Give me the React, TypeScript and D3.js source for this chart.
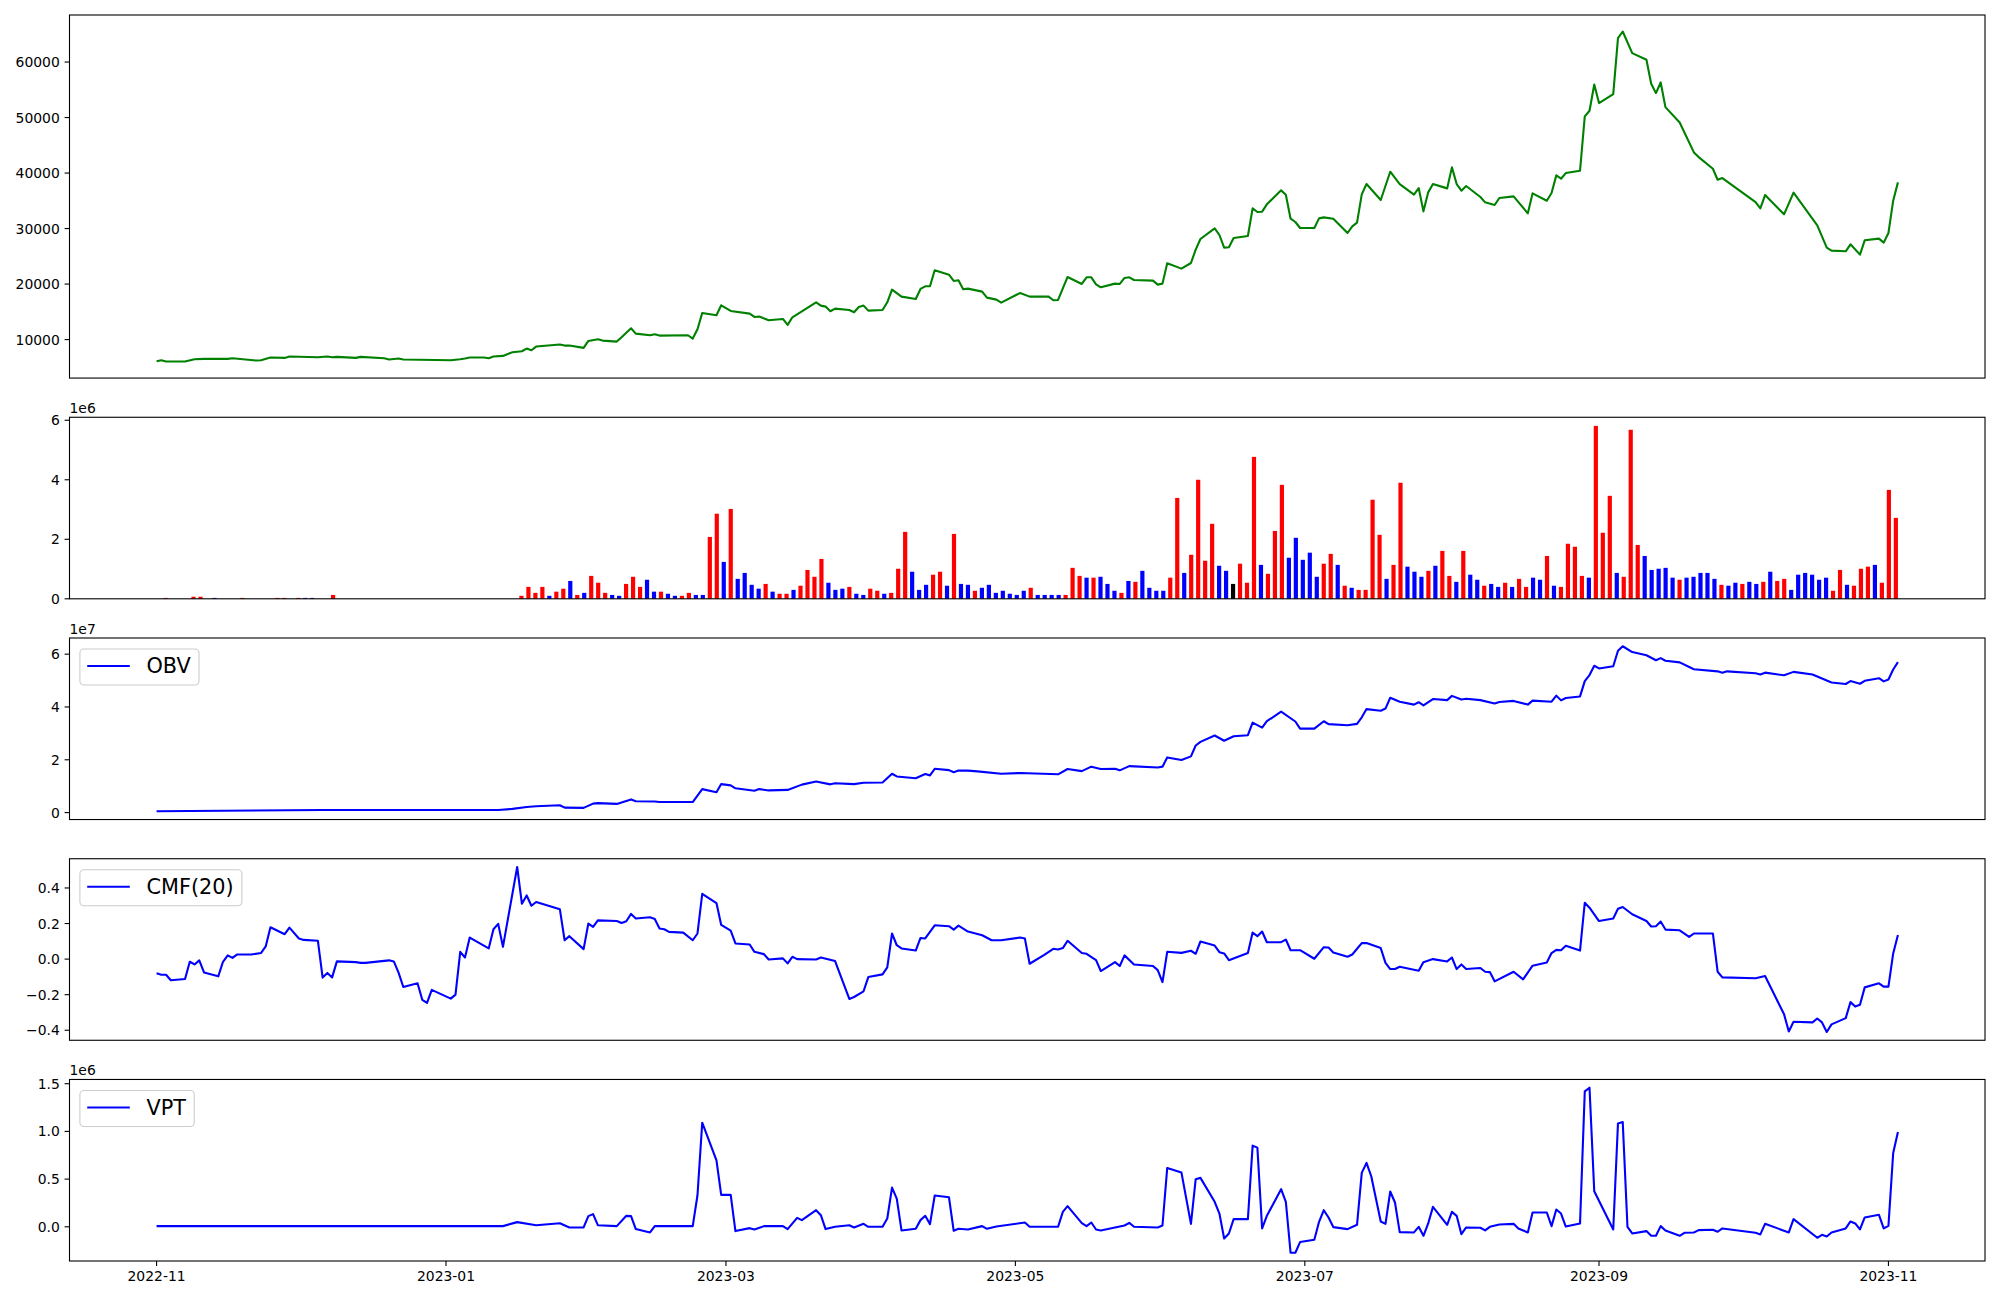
import React from "react";
import * as d3 from "d3";

// ---------------- DATA ----------------
// Day offsets are calendar days after 2022-11-01
const startDateISO = "2022-11-01";

// Close price (day, value)
const priceLine: [number, number][] = [
  [0,6100],[1,6280],[2,6040],[6,6040],[8,6460],[10,6520],[15,6520],[16,6640],[21,6220],[22,6280],[24,6760],[27,6700],[28,6940],[34,6820],[36,6940],[37,6820],[38,6880],[42,6700],[43,6880],[48,6640],[49,6400],[51,6580],[52,6400],[62,6280],[64,6460],[65,6580],[66,6760],[69,6760],[70,6640],[71,6940],[73,7060],[75,7720],[77,7900],[78,8380],[79,8080],[80,8740],[85,9100],[86,8920],[87,8920],[90,8500],[91,9760],[93,10060],[94,9820],[97,9640],[98,10420],[100,12040],[101,11080],[104,10780],[105,10960],[106,10720],[112,10780],[113,10180],[114,11860],[115,14800],[118,14380],[119,16180],[121,15160],[125,14680],[126,14080],[127,14140],[129,13480],[132,13720],[133,12640],[134,14020],[139,16720],[140,16120],[141,15940],[142,15100],[143,15580],[146,15340],[147,14920],[148,15880],[149,16120],[150,15220],[153,15340],[154,16720],[155,19000],[157,17740],[160,17320],[161,19120],[162,19600],[163,19600],[164,22480],[167,21700],[168,20560],[169,20680],[170,19060],[171,19180],[174,18640],[175,17560],[177,17200],[178,16660],[182,18400],[184,17740],[188,17740],[189,17080],[190,17140],[192,21280],[195,20020],[196,21220],[197,21220],[198,19960],[199,19420],[202,20080],[203,20020],[204,21100],[205,21220],[206,20740],[210,20620],[211,19900],[212,20080],[213,23740],[216,22780],[218,23800],[219,26200],[220,28120],[223,30040],[224,28840],[225,26560],[226,26620],[227,28300],[230,28660],[231,33640],[232,32980],[233,33040],[234,34360],[237,36880],[238,36100],[239,31780],[240,31180],[241,30100],[244,30100],[245,31840],[246,32020],[248,31780],[251,29200],[252,30400],[253,31060],[254,36160],[255,38020],[258,35140],[260,40240],[262,38020],[265,36100],[266,37300],[267,33100],[268,36520],[269,38020],[272,37240],[273,41020],[274,38020],[275,36820],[276,37660],[279,35680],[280,34720],[282,34240],[283,35500],[286,35800],[289,32740],[290,36340],[293,35020],[294,36400],[295,39580],[296,38980],[297,40000],[300,40420],[301,50200],[302,51220],[303,55960],[304,52600],[307,54220],[308,64300],[309,65500],[311,61600],[314,60400],[315,56080],[316,54400],[317,56320],[318,51880],[321,49120],[324,43720],[325,42880],[328,40780],[329,38800],[330,39100],[337,34780],[338,33640],[339,36040],[343,32560],[345,36460],[350,30580],[352,26560],[353,26020],[356,25900],[357,27160],[359,25300],[360,27880],[363,28180],[364,27460],[365,29200],[366,35020],[367,38320]
];

// Volume in millions, one per trading session (index based)
const volumeM: number[] = [
  0,0.03,0,0,0,0.07,0.07,0,0.03,0,
  0,0,0.03,0,0,0,0,0.03,0.03,0,
  0.03,0.03,0.03,0,0,0.13,0,0,0,0,
  0,0,0,0,0,0,0,0,0,0,
  0,0,0,0,0,0,0,0,0,0,
  0,0,0.10,0.40,0.20,0.40,0.10,0.24,0.34,0.60,
  0.13,0.20,0.77,0.54,0.20,0.13,0.10,0.50,0.74,0.40,
  0.64,0.24,0.24,0.17,0.10,0.10,0.20,0.13,0.13,2.08,
  2.86,1.24,3.02,0.67,0.87,0.47,0.34,0.50,0.24,0.17,
  0.17,0.30,0.44,0.97,0.74,1.34,0.54,0.30,0.34,0.40,
  0.17,0.13,0.34,0.27,0.17,0.20,1.01,2.25,0.91,0.30,
  0.47,0.81,0.91,0.44,2.18,0.50,0.47,0.27,0.37,0.47,
  0.20,0.27,0.17,0.13,0.27,0.37,0.13,0.13,0.13,0.13,
  0.13,1.04,0.77,0.71,0.71,0.74,0.50,0.27,0.20,0.60,
  0.57,0.94,0.37,0.27,0.27,0.71,3.39,0.87,1.48,4.00,
  1.28,2.52,1.11,0.94,0.50,1.18,0.54,4.77,1.14,0.84,
  2.28,3.83,1.38,2.05,1.31,1.55,0.74,1.18,1.51,1.14,
  0.44,0.37,0.30,0.30,3.33,2.15,0.67,1.14,3.90,1.08,
  0.91,0.74,0.94,1.11,1.61,0.77,0.57,1.61,0.81,0.64,
  0.44,0.50,0.40,0.54,0.40,0.67,0.40,0.71,0.64,1.44,
  0.44,0.40,1.85,1.75,0.77,0.71,5.81,2.22,3.46,0.87,
  0.74,5.68,1.81,1.44,0.97,1.01,1.04,0.71,0.64,0.71,
  0.74,0.87,0.87,0.67,0.47,0.44,0.54,0.50,0.57,0.50,
  0.57,0.91,0.60,0.67,0.30,0.81,0.87,0.81,0.64,0.71,
  0.27,0.97,0.47,0.44,1.01,1.08,1.14,0.54,3.66,2.72
];

// Bar colour codes: r = up, b = down, k = unchanged
const volumeColorCodes =
  "brbbbrrbbb" + "bbrbbbbrrb" + "rbbbbrbbbb" + "bbbbbbbbbb" + "bbbbbbbbbb" +
  "bbrrrrbrrb" + "rbrrrbbrrr" + "bbrbbrrbbr" + "rbrbbbbrbr" + "rbrrrrbbbr" +
  "bbrrbrrrbb" + "brrbrbbrbb" + "bbbbbrbbbb" + "rrrbrbbbrb" + "rbbbbrrbrr" +
  "rrbbkrrrbr" + "rrbbbbbrrb" + "rbrrrrbrrb" + "bbrbrrbrbb" + "rbbrbrrbbr" +
  "brrrrbrrrb" + "rrrbbbbbrb" + "bbbbrbbrbb" + "rbrrbbbbbb" + "rrbrrrbrrr";

// OBV (x1e7)
const obvLine: [number, number][] = [
  [0,0.05],[7,0.06],[35,0.10],[72,0.10],[75,0.14],[78,0.21],[80,0.24],[85,0.28],[86,0.19],[90,0.18],[92,0.34],[93,0.36],[97,0.33],[100,0.50],[101,0.43],[105,0.42],[106,0.40],[113,0.40],[115,0.89],[118,0.77],[119,1.08],[121,1.03],[122,0.92],[126,0.83],[127,0.89],[129,0.84],[133,0.86],[136,1.06],[139,1.18],[142,1.07],[143,1.11],[147,1.08],[149,1.13],[153,1.14],[155,1.47],[156,1.37],[160,1.30],[162,1.46],[163,1.41],[164,1.66],[167,1.61],[168,1.53],[169,1.59],[171,1.59],[173,1.56],[178,1.47],[182,1.50],[190,1.45],[192,1.65],[195,1.57],[197,1.74],[199,1.65],[202,1.66],[203,1.60],[205,1.76],[211,1.71],[212,1.74],[213,2.09],[216,1.99],[218,2.13],[219,2.54],[220,2.68],[223,2.92],[225,2.72],[227,2.89],[230,2.93],[231,3.41],[233,3.22],[234,3.46],[237,3.82],[240,3.45],[241,3.18],[244,3.18],[246,3.46],[247,3.35],[251,3.31],[253,3.36],[254,3.61],[255,3.92],[258,3.86],[259,3.94],[260,4.35],[262,4.20],[265,4.09],[266,4.18],[267,4.06],[269,4.30],[272,4.26],[273,4.42],[275,4.28],[276,4.31],[279,4.26],[282,4.13],[283,4.19],[286,4.23],[289,4.09],[290,4.24],[294,4.20],[295,4.43],[296,4.25],[297,4.34],[300,4.40],[301,4.98],[302,5.21],[303,5.56],[304,5.46],[307,5.54],[308,6.13],[309,6.30],[311,6.08],[314,5.96],[316,5.77],[317,5.85],[318,5.75],[321,5.69],[324,5.43],[329,5.35],[330,5.30],[331,5.35],[337,5.28],[338,5.23],[339,5.30],[343,5.20],[345,5.33],[349,5.23],[353,4.93],[356,4.87],[357,4.98],[359,4.88],[360,4.99],[363,5.09],[364,4.97],[365,5.04],[366,5.42],[367,5.70]
];

// CMF(20)
const cmfLine: [number, number][] = [
  [0,-0.080],[1,-0.088],[2,-0.088],[3,-0.119],[6,-0.112],[7,-0.015],[8,-0.030],[9,-0.007],[10,-0.075],[13,-0.097],[14,-0.015],[15,0.021],[16,0.007],[17,0.026],[20,0.026],[22,0.034],[23,0.071],[24,0.179],[27,0.140],[28,0.177],[30,0.116],[31,0.108],[34,0.103],[35,-0.104],[36,-0.078],[37,-0.103],[38,-0.013],[42,-0.017],[43,-0.021],[44,-0.021],[49,-0.007],[50,-0.013],[51,-0.076],[52,-0.157],[55,-0.136],[56,-0.229],[57,-0.246],[58,-0.173],[62,-0.222],[63,-0.200],[64,0.041],[65,0.009],[66,0.121],[70,0.060],[71,0.168],[72,0.198],[73,0.069],[76,0.518],[77,0.311],[78,0.358],[79,0.300],[80,0.321],[85,0.280],[86,0.106],[87,0.129],[90,0.056],[91,0.200],[92,0.181],[93,0.218],[97,0.214],[98,0.203],[99,0.213],[100,0.254],[101,0.228],[104,0.235],[105,0.226],[106,0.172],[107,0.168],[108,0.153],[111,0.149],[113,0.106],[114,0.144],[115,0.367],[118,0.315],[119,0.192],[121,0.160],[122,0.088],[125,0.082],[126,0.041],[128,0.028],[129,-0.002],[132,0.004],[133,-0.024],[134,0.013],[135,0],[139,-0.002],[140,0.009],[143,-0.011],[146,-0.224],[147,-0.213],[149,-0.181],[150,-0.101],[153,-0.086],[154,-0.047],[155,0.144],[156,0.078],[157,0.060],[160,0.048],[161,0.119],[162,0.116],[164,0.190],[167,0.185],[168,0.166],[169,0.188],[171,0.155],[174,0.134],[176,0.106],[178,0.106],[182,0.121],[183,0.116],[184,-0.026],[187,0.022],[189,0.058],[190,0.054],[191,0.062],[192,0.103],[195,0.034],[196,0.030],[198,-0.006],[199,-0.067],[202,-0.017],[203,-0.039],[204,0.021],[206,-0.030],[210,-0.039],[211,-0.062],[212,-0.129],[213,0.041],[216,0.035],[218,0.047],[219,0.030],[220,0.099],[223,0.076],[224,0.039],[225,0.032],[226,-0.006],[230,0.034],[231,0.149],[232,0.129],[233,0.155],[234,0.095],[237,0.095],[238,0.110],[239,0.050],[241,0.050],[244,0.002],[246,0.067],[247,0.065],[248,0.037],[251,0.013],[252,0.026],[254,0.090],[255,0.090],[258,0.062],[259,-0.021],[260,-0.056],[261,-0.056],[262,-0.043],[266,-0.065],[267,-0.017],[269,0],[272,-0.013],[273,0.009],[274,-0.056],[275,-0.030],[276,-0.056],[279,-0.050],[280,-0.071],[281,-0.073],[282,-0.125],[286,-0.071],[288,-0.114],[290,-0.037],[293,-0.019],[294,0.034],[295,0.052],[296,0.050],[297,0.075],[300,0.048],[301,0.317],[302,0.289],[304,0.214],[307,0.228],[308,0.283],[309,0.293],[311,0.252],[314,0.214],[315,0.183],[316,0.185],[317,0.211],[318,0.166],[321,0.162],[323,0.125],[324,0.144],[328,0.144],[329,-0.071],[330,-0.103],[337,-0.108],[339,-0.095],[343,-0.310],[344,-0.407],[345,-0.352],[349,-0.356],[350,-0.334],[351,-0.356],[352,-0.410],[353,-0.367],[356,-0.332],[357,-0.242],[358,-0.267],[359,-0.257],[360,-0.159],[363,-0.136],[364,-0.155],[365,-0.155],[366,0.032],[367,0.136]
];

// VPT (x1e6)
const vptLine: [number, number][] = [
  [0,0.007],[73,0.007],[76,0.049],[80,0.017],[85,0.038],[87,-0.007],[90,-0.007],[91,0.112],[92,0.133],[93,0.017],[97,0.007],[99,0.115],[100,0.112],[101,-0.024],[104,-0.059],[105,0.007],[113,0.007],[114,0.331],[115,1.091],[118,0.697],[119,0.335],[121,0.335],[122,-0.045],[125,-0.014],[126,-0.028],[128,0.007],[132,0.007],[133,-0.024],[135,0.094],[136,0.070],[139,0.174],[140,0.122],[141,-0.024],[143,0],[146,0.017],[147,-0.007],[149,0.031],[150,0],[153,0],[154,0.087],[155,0.411],[156,0.296],[157,-0.038],[160,-0.021],[161,0.070],[162,0.115],[163,0.028],[164,0.328],[167,0.310],[168,-0.042],[169,-0.021],[171,-0.028],[174,0.007],[175,-0.021],[177,0.003],[183,0.045],[184,0],[190,0],[191,0.157],[192,0.216],[195,0.038],[196,0.007],[197,0.045],[198,-0.028],[199,-0.038],[204,0.014],[205,0.042],[206,0],[211,-0.007],[212,0.014],[213,0.617],[216,0.568],[218,0.031],[219,0.499],[220,0.513],[223,0.262],[224,0.139],[225,-0.122],[226,-0.070],[227,0.080],[230,0.080],[231,0.851],[232,0.830],[233,-0.017],[234,0.115],[237,0.394],[238,0.262],[239,-0.272],[240,-0.272],[241,-0.160],[244,-0.136],[245,0.052],[246,0.174],[247,0.098],[248,-0.003],[251,-0.024],[253,0.021],[254,0.565],[255,0.670],[256,0.530],[258,0.056],[259,0.031],[260,0.370],[261,0.255],[262,-0.056],[265,-0.059],[266,0],[267,-0.094],[268,0.035],[269,0.209],[272,0.021],[273,0.157],[274,0.115],[275,-0.077],[276,-0.007],[279,-0.010],[280,-0.038],[281,0],[283,0.024],[286,0.031],[287,-0.017],[289,-0.059],[290,0.150],[293,0.150],[294,0.007],[295,0.181],[296,0.139],[297,0.003],[300,0.035],[301,1.419],[302,1.458],[303,0.373],[307,-0.028],[308,1.084],[309,1.098],[310,0],[311,-0.070],[314,-0.045],[315,-0.094],[316,-0.094],[317,0.007],[318,-0.038],[321,-0.094],[322,-0.063],[324,-0.059],[325,-0.035],[328,-0.031],[329,-0.052],[330,-0.017],[337,-0.063],[338,-0.080],[339,0.031],[344,-0.059],[345,0.080],[350,-0.115],[351,-0.084],[352,-0.101],[353,-0.059],[356,-0.017],[357,0.056],[358,0.035],[359,-0.028],[360,0.098],[363,0.126],[364,-0.017],[365,0.010],[366,0.774],[367,0.994]
];

// Tick labels
const priceTicks = [10000, 20000, 30000, 40000, 50000, 60000];
const volumeTicks = [0, 2, 4, 6];
const obvTicks = [0, 2, 4, 6];
const cmfTicks = [-0.4, -0.2, 0.0, 0.2, 0.4];
const vptTicks = [0.0, 0.5, 1.0, 1.5];
const dateTickLabels = ["2022-11", "2023-01", "2023-03", "2023-05", "2023-07", "2023-09", "2023-11"];

// ---------------- LAYOUT ----------------
const W = 2000, H = 1300;
const FL = 69.5, FR = 1985;
const TOP = 15, BOTTOM = 1261, GAP = 39.2;
const RATIOS = [2, 1, 1, 1, 1];
const FONT = "DejaVu Sans, Liberation Sans, sans-serif";
const TICK_FS = 13.9;
const LEG_FS = 20.8;

const unit = (BOTTOM - TOP - GAP * (RATIOS.length - 1)) / d3.sum(RATIOS);
const panels = (() => {
  let y = TOP;
  return RATIOS.map((r) => {
    const p = { top: y, bottom: y + r * unit };
    y = p.bottom + GAP;
    return p;
  });
})();

const start = d3.utcParse("%Y-%m-%d")(startDateISO) as Date;
const DAY = 864e5;
const dayDate = (d: number) => new Date(start.getTime() + d * DAY);

function padExtent(vals: number[], frac = 0.05): [number, number] {
  const [a, b] = d3.extent(vals) as [number, number];
  const p = (b - a) * frac;
  return [a - p, b + p];
}

function measure(text: string, size: number) {
  try {
    const c = document.createElement("canvas").getContext("2d")!;
    c.font = `${size}px "DejaVu Sans"`;
    return c.measureText(text).width;
  } catch {
    return text.length * size * 0.62;
  }
}

function Frame({ top, bottom }: { top: number; bottom: number }) {
  return <rect x={FL} y={top} width={FR - FL} height={bottom - top} fill="none" stroke="#000" strokeWidth={1.1} />;
}

function YAxis({ scale, ticks, fmt }: { scale: d3.ScaleLinear<number, number>; ticks: number[]; fmt: (v: number) => string }) {
  return (
    <g>
      {ticks.map((t) => (
        <g key={t}>
          <line x1={FL - 4.9} x2={FL} y1={scale(t)} y2={scale(t)} stroke="#000" strokeWidth={1.1} />
          <text x={FL - 9.7} y={scale(t)} dy="0.36em" textAnchor="end" fontSize={TICK_FS} fontFamily={FONT} fill="#000">
            {fmt(t)}
          </text>
        </g>
      ))}
    </g>
  );
}

function Legend({ top, label }: { top: number; label: string }) {
  const x = FL + 10.4;
  const y = top + 11;
  const tw = measure(label, LEG_FS);
  const pad = 0.4 * LEG_FS;
  const hl = 2 * LEG_FS;
  const gap = 0.8 * LEG_FS;
  const w = pad + hl + gap + tw + pad;
  const h = 36;
  const cy = y + 17;
  return (
    <g>
      <rect x={x} y={y} width={w} height={h} rx={4} fill="#fff" fillOpacity={0.8} stroke="#cccccc" strokeWidth={1.1} />
      <line x1={x + pad - 1} x2={x + pad + hl} y1={cy} y2={cy} stroke="#0000ff" strokeWidth={2.1} />
      <text x={x + pad + hl + gap} y={cy} dy="0.36em" fontSize={LEG_FS} fontFamily={FONT} fill="#000">
        {label}
      </text>
    </g>
  );
}

function OffsetText({ top, label }: { top: number; label: string }) {
  return (
    <text x={FL} y={top - 4.5} fontSize={TICK_FS} fontFamily={FONT} fill="#000">
      {label}
    </text>
  );
}

export default function App() {
  // shared time scale for date-based panels
  const allDays = [...priceLine, ...obvLine, ...cmfLine, ...vptLine].map((p) => p[0]);
  const [d0, d1] = padExtent(allDays);
  const xTime = d3.scaleUtc().domain([dayDate(d0), dayDate(d1)]).range([FL, FR]);

  // index scale for the volume bars
  const barW = 0.6;
  const n = volumeM.length;
  const [i0, i1] = padExtent([-barW / 2, n - 1 + barW / 2]);
  const xIdx = d3.scaleLinear().domain([i0, i1]).range([FL, FR]);

  const [p1, p2, p3, p4, p5] = panels;
  const yPrice = d3.scaleLinear().domain(padExtent(priceLine.map((p) => p[1]))).range([p1.bottom, p1.top]);
  const yVol = d3.scaleLinear().domain([0, (d3.max(volumeM) as number) * 1.05]).range([p2.bottom, p2.top]);
  const yObv = d3.scaleLinear().domain(padExtent(obvLine.map((p) => p[1]))).range([p3.bottom, p3.top]);
  const yCmf = d3.scaleLinear().domain(padExtent(cmfLine.map((p) => p[1]))).range([p4.bottom, p4.top]);
  const yVpt = d3.scaleLinear().domain(padExtent(vptLine.map((p) => p[1]))).range([p5.bottom, p5.top]);

  const mkLine = (ys: d3.ScaleLinear<number, number>) =>
    d3
      .line<[number, number]>()
      .x((p) => xTime(dayDate(p[0])))
      .y((p) => ys(p[1]));

  const colorOf: Record<string, string> = { r: "#ff0000", b: "#0000ff", k: "#000000" };
  const parseMonth = d3.utcParse("%Y-%m");
  const fmtInt = d3.format("d");
  const fmt1 = d3.format(".1f");

  return (
    <svg width={W} height={H} style={{ position: "absolute", left: 0, top: 0, display: "block" }} xmlns="http://www.w3.org/2000/svg">
      <rect x={0} y={0} width={W} height={H} fill="#fff" />

      {/* Panel 1: price */}
      <path d={mkLine(yPrice)(priceLine) || ""} fill="none" stroke="#008000" strokeWidth={2.1} strokeLinejoin="round" />
      <YAxis scale={yPrice} ticks={priceTicks} fmt={fmtInt} />
      <Frame {...p1} />

      {/* Panel 2: volume */}
      {volumeM.map((v, i) =>
        v > 0 ? (
          <rect
            key={i}
            x={xIdx(i - barW / 2)}
            width={xIdx(barW) - xIdx(0)}
            y={yVol(v)}
            height={yVol(0) - yVol(v)}
            fill={colorOf[volumeColorCodes[i]] || "#0000ff"}
          />
        ) : null
      )}
      <YAxis scale={yVol} ticks={volumeTicks} fmt={fmtInt} />
      <OffsetText top={p2.top} label="1e6" />
      <Frame {...p2} />

      {/* Panel 3: OBV */}
      <path d={mkLine(yObv)(obvLine) || ""} fill="none" stroke="#0000ff" strokeWidth={2.1} strokeLinejoin="round" />
      <YAxis scale={yObv} ticks={obvTicks} fmt={fmtInt} />
      <OffsetText top={p3.top} label="1e7" />
      <Legend top={p3.top} label="OBV" />
      <Frame {...p3} />

      {/* Panel 4: CMF */}
      <path d={mkLine(yCmf)(cmfLine) || ""} fill="none" stroke="#0000ff" strokeWidth={2.1} strokeLinejoin="round" />
      <YAxis scale={yCmf} ticks={cmfTicks} fmt={fmt1} />
      <Legend top={p4.top} label="CMF(20)" />
      <Frame {...p4} />

      {/* Panel 5: VPT */}
      <path d={mkLine(yVpt)(vptLine) || ""} fill="none" stroke="#0000ff" strokeWidth={2.1} strokeLinejoin="round" />
      <YAxis scale={yVpt} ticks={vptTicks} fmt={fmt1} />
      <OffsetText top={p5.top} label="1e6" />
      <Legend top={p5.top} label="VPT" />
      <Frame {...p5} />

      {/* Bottom date axis */}
      {dateTickLabels.map((lab) => {
        const x = xTime(parseMonth(lab) as Date);
        return (
          <g key={lab}>
            <line x1={x} x2={x} y1={p5.bottom} y2={p5.bottom + 4.9} stroke="#000" strokeWidth={1.1} />
            <text x={x} y={p5.bottom + 9.7} dy="0.76em" textAnchor="middle" fontSize={TICK_FS} fontFamily={FONT} fill="#000">
              {lab}
            </text>
          </g>
        );
      })}
    </svg>
  );
}
